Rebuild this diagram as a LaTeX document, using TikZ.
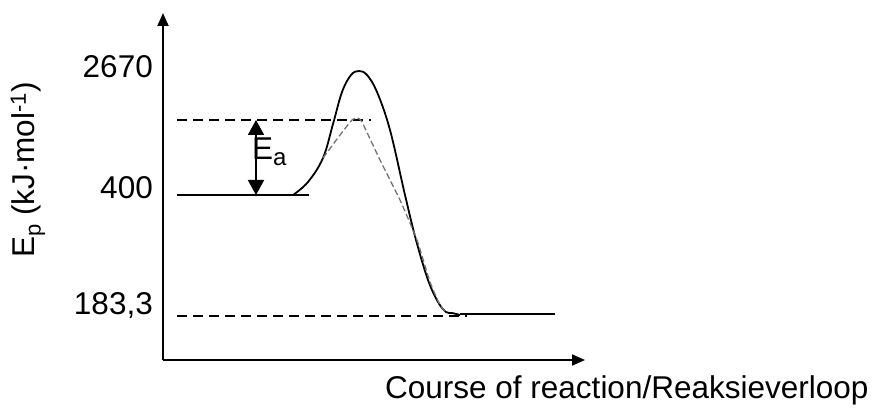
\documentclass[tikz,border=0pt]{standalone}
\usepackage{fontspec}
\setmainfont{Liberation Sans}
\usetikzlibrary{arrows.meta}
\begin{document}
\begin{tikzpicture}[x=1pt,y=-1pt,
  lbl/.style={inner sep=0pt,font=\fontsize{31.5}{36}\selectfont},
  axisline/.style={line width=1.8pt,-{Triangle[width=11pt,length=13pt]}},
  level/.style={line width=1.8pt},
  dashlevel/.style={line width=1.8pt,dash pattern=on 10pt off 6pt},
  curve/.style={line width=1.8pt,line join=round},
  catcurve/.style={line width=1.3pt,color=black!55,dash pattern=on 6pt off 3pt},
  eaarrow/.style={line width=1.8pt,{Triangle[width=16pt,length=15pt]}-{Triangle[width=16pt,length=15pt]}}]
\useasboundingbox (0,0) rectangle (879,417);
% axes
\coordinate (O) at (163,360);
\coordinate (Ytop) at (163,13);
\coordinate (Xend) at (585,360);
\draw[axisline] (O) -- (Ytop);
\draw[axisline] (O) -- (Xend);
% levels
\coordinate (TSl) at (177,120);
\coordinate (TSr) at (371,120);
\coordinate (Rl) at (177,195);
\coordinate (Rr) at (309,195);
\coordinate (Pl) at (177,316);
\coordinate (Pr) at (467,316);
\coordinate (Ql) at (460,314);
\coordinate (Qr) at (555,314);
\draw[dashlevel] (TSl) -- (TSr);
\draw[level] (Rl) -- (Rr);
\draw[dashlevel] (Pl) -- (Pr);
\draw[level] (Ql) -- (Qr);
% uncatalysed curve
\draw[curve] plot[smooth,tension=0.6] coordinates {(293,195) (308,182) (323,158) (333,124) (342,92) (351,75) (359,71) (367,75) (377,92) (390,130) (405,195) (416,240) (428,280) (438,302) (446,312) (452,313) (460,315)};
% catalysed curve
\draw[catcurve] plot[smooth,tension=0.3] coordinates {(323,158) (340,135) (352,120) (357,118) (362,122) (380,160) (400,200) (417,240) (430,282) (440,305) (446,312)};
% Ea arrow
\coordinate (EaTop) at (256,120);
\coordinate (EaBot) at (256,195);
\draw[eaarrow] (EaTop) -- (EaBot);
\node[lbl,anchor=west] (ea) at (252,152) {E\raisebox{-0.35ex}{\fontsize{24}{28}\selectfont a}};
% axis labels
\node[lbl,anchor=east] (v2670) at (153,67) {2670};
\node[lbl,anchor=east] (v400) at (153,188) {400};
\node[lbl,anchor=east] (v183) at (153,306) {183,3};
\node[lbl,rotate=90] (ylab) at (28,170) {E\raisebox{-0.35ex}{\fontsize{22}{26}\selectfont p} (kJ·mol\textsuperscript{-1})};
\node[lbl,anchor=west] (xlab) at (385,390) {Course of reaction/Reaksieverloop};
\end{tikzpicture}
\end{document}
